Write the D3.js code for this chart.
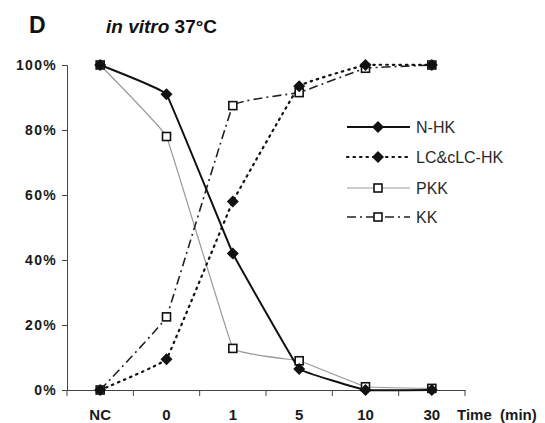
<!DOCTYPE html>
<html><head><meta charset="utf-8">
<script src="https://cdn.jsdelivr.net/npm/d3@7"></script>
<style>body{margin:0;background:#fff}svg{display:block}text{font-family:"Liberation Sans",Arial,sans-serif}</style>
</head><body><svg id="c" width="545" height="423"></svg>
<script>
const categories = ["NC","0","1","5","10","30"];
const yTicks = [0,20,40,60,80,100];
const nhk = [100,91,42,6.5,0,0];
const lchk = [0,9.5,58,93.5,100,100];
const pkk = [100,78,12.8,9,1,0.5];
const kk = [0,22.5,87.5,91.5,99,100];
const seriesNames = ["N-HK","LC&cLC-HK","PKK","KK"];

const svg = d3.select("#c");
const x = d3.scaleBand().domain(categories).range([67,465]);
const y = d3.scaleLinear().domain([0,100]).range([390,65]);
const cx = c => x(c) + x.bandwidth()/2;

// axes
const ya = svg.append("g").attr("transform","translate(67,0)")
  .call(d3.axisLeft(y).tickValues(yTicks).tickSize(5).tickFormat(d=>d+"%"));
ya.select(".domain").attr("stroke","#444");
ya.selectAll(".tick line").attr("stroke","#444");
ya.selectAll(".tick text").attr("font-size",14).attr("font-weight","bold").attr("fill","#1a1a1a")
  .attr("letter-spacing","1.3px").attr("x",-10).attr("dy","0.35em");

const xa = svg.append("g").attr("transform","translate(0,390)")
  .call(d3.axisBottom(x).tickSize(0).tickFormat(d=>d));
xa.select(".domain").attr("stroke","#444");
xa.selectAll(".tick text").attr("font-size",15).attr("font-weight","bold").attr("fill","#1a1a1a").attr("dy",0).attr("y",30);
// boundary ticks
const bounds = categories.map(c=>x(c)).concat([x.range()[1]]);
svg.append("g").selectAll("line").data(bounds).join("line")
  .attr("x1",d=>d).attr("x2",d=>d).attr("y1",390).attr("y2",396).attr("stroke","#444");

svg.append("text").attr("x",457).attr("y",420).attr("font-size",15).attr("font-weight","bold").attr("fill","#1a1a1a")
  .attr("xml:space","preserve").style("white-space","pre").text("Time  (min)");

// title
svg.append("text").attr("x",29).attr("y",33).attr("font-size",23).attr("font-weight","bold").attr("fill","#111").text("D");
const t = svg.append("text").attr("x",106).attr("y",33).attr("font-size",19).attr("font-weight","bold").attr("fill","#111");
t.append("tspan").attr("font-style","italic").text("in vitro");
t.append("tspan").text(" 37°C");

const line = d3.line().x((d,i)=>cx(categories[i])).y(d=>y(d)).curve(d3.curveCardinal.tension(0.85));

const styles = [
  {data:nhk, stroke:"#111", w:2, dash:null, m:"diamond"},
  {data:lchk, stroke:"#111", w:2.2, dash:"1.5,5", cap:"round", m:"diamond"},
  {data:pkk, stroke:"#999", w:1.2, dash:null, m:"square"},
  {data:kk, stroke:"#222", w:1.6, dash:"9,4,2,4", m:"square"}
];
function marker(g, type, px, py){
  if(type==="diamond"){
    g.append("path").attr("d",`M${px},${py-6}L${px+6},${py}L${px},${py+6}L${px-6},${py}Z`).attr("fill","#111");
  } else {
    g.append("rect").attr("x",px-4).attr("y",py-4).attr("width",8).attr("height",8).attr("fill","#fff").attr("stroke","#111").attr("stroke-width",1.6);
  }
}
const draw = [2,3,1,0];
draw.forEach(k=>{
  const s = styles[k];
  const p = svg.append("path").attr("d",line(s.data)).attr("fill","none").attr("stroke",s.stroke).attr("stroke-width",s.w);
  if(s.dash) p.attr("stroke-dasharray",s.dash);
  if(s.cap) p.attr("stroke-linecap",s.cap);
});
draw.forEach(k=>{
  const s = styles[k];
  const g = svg.append("g");
  s.data.forEach((v,i)=>marker(g,s.m,cx(categories[i]),y(v)));
});

// legend
const ly = [127,157,188,217];
styles.forEach((s,i)=>{
  const g = svg.append("g");
  const l = g.append("line").attr("x1",347).attr("x2",410).attr("y1",ly[i]).attr("y2",ly[i]).attr("stroke",s.stroke).attr("stroke-width",s.w);
  if(s.dash) l.attr("stroke-dasharray",s.dash);
  if(s.cap) l.attr("stroke-linecap",s.cap);
  marker(g,s.m,378,ly[i]);
  g.append("text").attr("x",416).attr("y",ly[i]).attr("dy","0.36em").attr("font-size",16).attr("fill","#2a2a2a").text(seriesNames[i]);
});
</script></body></html>
